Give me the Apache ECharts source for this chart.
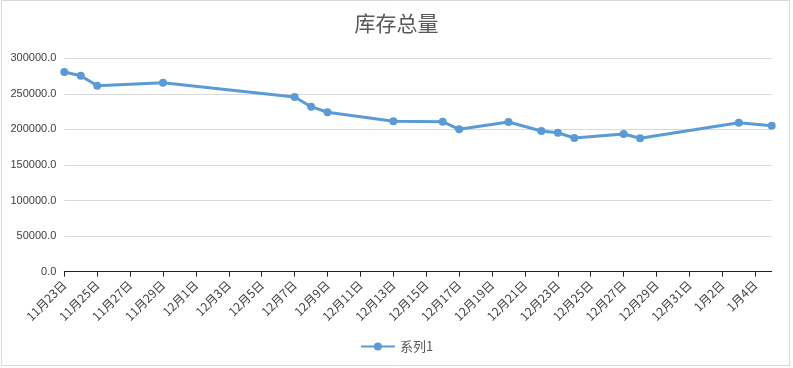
<!DOCTYPE html>
<html><head><meta charset="utf-8">
<script src="https://cdn.jsdelivr.net/npm/echarts@6/dist/echarts.min.js"></script>
<style>html,body{margin:0;padding:0;background:#fff}#c{width:793px;height:368px}</style>
</head><body><div id="c"></div>
<script>
const title = '库存总量';
const seriesName = '系列1';
const startDate = '2019-11-23';
const endDate = '2020-01-05';
const dates = ['2019-11-23','2019-11-24','2019-11-25','2019-11-29','2019-12-07','2019-12-08','2019-12-09','2019-12-13','2019-12-16','2019-12-17','2019-12-20','2019-12-22','2019-12-23','2019-12-24','2019-12-27','2019-12-28','2020-01-03','2020-01-05'];
const values = [280700,275500,261500,265700,245600,232000,224100,211400,210900,200200,210400,197800,195400,188000,193600,187500,209500,205300];
const yTicks = [0,50000,100000,150000,200000,250000,300000];

const DAY = 86400000;
const t0 = Date.parse(startDate+'T00:00:00Z');
const dayIdx = d => Math.round((Date.parse(d+'T00:00:00Z') - t0)/DAY);
const span = dayIdx(endDate);
const fmt = v => { const d = new Date(t0 + v*DAY); return (d.getUTCMonth()+1)+'月'+d.getUTCDate()+'日'; };

const chart = echarts.init(document.getElementById('c'));
chart.setOption({
  animation:false,
  title:{text:title,left:'center',top:8,textStyle:{fontFamily:'Noto Sans CJK SC',fontSize:21,fontWeight:'normal',color:'#595959'}},
  graphic:[{type:'rect',shape:{x:1.5,y:0.5,width:788,height:365},style:{fill:'none',stroke:'#d9d9d9',lineWidth:1},silent:true}],
  legend:{bottom:10,left:'center',itemWidth:34,itemHeight:10,textStyle:{fontFamily:'Noto Sans CJK SC',fontSize:13,color:'#595959'},data:[seriesName]},
  grid:{left:64.3,right:21.3,top:58.3,bottom:96.3,containLabel:false},
  xAxis:{type:'value',min:0,max:span,interval:2,
    axisLine:{lineStyle:{color:'#222',width:1}},
    axisTick:{show:true,length:5,lineStyle:{color:'#222'}},
    splitLine:{show:false},
    axisLabel:{rotate:45,margin:11,fontFamily:'Noto Sans CJK SC',fontSize:12,color:'#404040',showMaxLabel:false,
      formatter:v=> (v%2===0 && v<span)? fmt(v):''}},
  yAxis:{type:'value',min:yTicks[0],max:yTicks[yTicks.length-1],interval:yTicks[1]-yTicks[0],
    axisLine:{show:false},axisTick:{show:false},
    splitLine:{lineStyle:{color:'#d9d9d9'}},
    axisLabel:{margin:8,fontFamily:'Liberation Sans',fontSize:11,color:'#404040',formatter:v=>v.toFixed(1)}},
  series:[{name:seriesName,type:'line',data:dates.map((d,i)=>[dayIdx(d),values[i]]),
    symbol:'circle',symbolSize:8,lineStyle:{color:'#5b9bd5',width:3},itemStyle:{color:'#5b9bd5'}}]
});
</script></body></html>
